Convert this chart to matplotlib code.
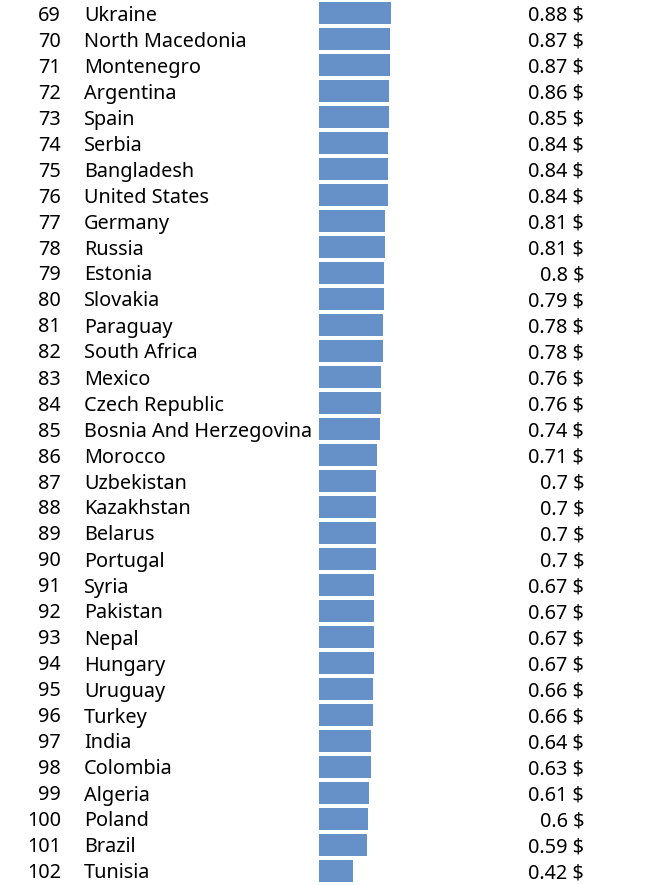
import matplotlib
matplotlib.use("Agg")
import matplotlib.pyplot as plt
import matplotlib.transforms as mtransforms

ranks = list(range(69, 103))
countries = ["Ukraine", "North Macedonia", "Montenegro", "Argentina", "Spain", "Serbia",
             "Bangladesh", "United States", "Germany", "Russia", "Estonia", "Slovakia",
             "Paraguay", "South Africa", "Mexico", "Czech Republic", "Bosnia And Herzegovina",
             "Morocco", "Uzbekistan", "Kazakhstan", "Belarus", "Portugal", "Syria", "Pakistan",
             "Nepal", "Hungary", "Uruguay", "Turkey", "India", "Colombia", "Algeria", "Poland",
             "Brazil", "Tunisia"]
values = [0.88, 0.87, 0.87, 0.86, 0.85, 0.84, 0.84, 0.84, 0.81, 0.81, 0.8, 0.79,
          0.78, 0.78, 0.76, 0.76, 0.74, 0.71, 0.7, 0.7, 0.7, 0.7, 0.67, 0.67,
          0.67, 0.67, 0.66, 0.66, 0.64, 0.63, 0.61, 0.6, 0.59, 0.42]
value_labels = ["0.88 $", "0.87 $", "0.87 $", "0.86 $", "0.85 $", "0.84 $", "0.84 $", "0.84 $",
                "0.81 $", "0.81 $", "0.8 $", "0.79 $", "0.78 $", "0.78 $", "0.76 $", "0.76 $",
                "0.74 $", "0.71 $", "0.7 $", "0.7 $", "0.7 $", "0.7 $", "0.67 $", "0.67 $",
                "0.67 $", "0.67 $", "0.66 $", "0.66 $", "0.64 $", "0.63 $", "0.61 $", "0.6 $",
                "0.59 $", "0.42 $"]

W, H, DPI = 650, 885, 100
fig = plt.figure(figsize=(W / DPI, H / DPI), dpi=DPI)
ax = fig.add_axes([0, 0, 1, 1])
ax.axis("off")

px_per_unit = 81.8
bar_x0 = 319
row_pitch = 26
first_center = 13
ax.set_xlim(-bar_x0 / px_per_unit, (W - bar_x0) / px_per_unit)
ax.set_ylim((H - first_center) / row_pitch, -first_center / row_pitch)

ypos = list(range(len(countries)))
ax.barh(ypos, values, height=22 / row_pitch, color="#6690C8", left=0)

trans = mtransforms.blended_transform_factory(fig.transFigure, ax.transData)
trans = trans + mtransforms.ScaledTranslation(0, -7.5 / DPI, fig.dpi_scale_trans)
font = dict(family=["Noto Sans", "DejaVu Sans"], size=14.3, color="black", va="baseline")
for i in ypos:
    ax.text(61 / W, i, str(ranks[i]), transform=trans, ha="right", **font)
    ax.text(84 / W, i, countries[i], transform=trans, ha="left", **font)
    ax.text(584 / W, i, value_labels[i], transform=trans, ha="right", **font)

fig.savefig("out.png", dpi=DPI)
